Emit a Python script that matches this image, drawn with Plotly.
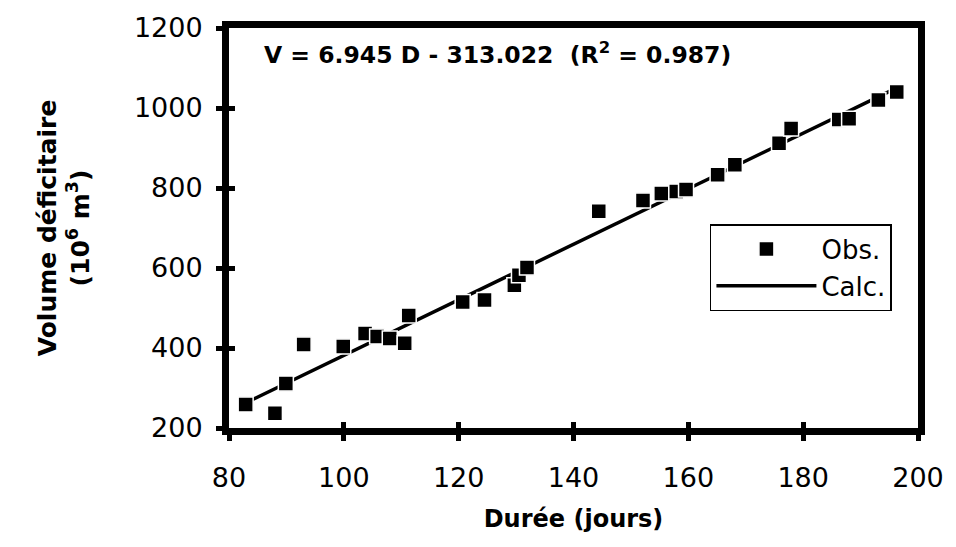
import plotly.graph_objects as go

# Observed data: duration (days) vs deficit volume (10^6 m3)
duree_obs = [82.9, 88.0, 89.9, 93.0, 99.9, 103.7, 105.8, 108.0, 110.6, 111.3,
             120.7, 124.5, 129.7, 130.5, 131.9, 144.4, 152.1, 155.3, 157.9, 159.6,
             165.1, 168.1, 175.8, 177.9, 186.2, 188.0, 193.1, 196.3]
volume_obs = [259, 237, 311, 409, 404, 436, 429, 424, 412, 481,
              515, 520, 557, 582, 601, 742, 769, 786, 791, 796,
              833, 858, 912, 949, 971, 973, 1020, 1040]

# Regression line (from the equation shown on the chart)
slope = 6.945
intercept = -313.022
duree_calc = [min(duree_obs), max(duree_obs)]
volume_calc = [slope * d + intercept for d in duree_calc]

x_ticks = [80, 100, 120, 140, 160, 180, 200]
y_ticks = [200, 400, 600, 800, 1000, 1200]

FONT = "DejaVu Sans, sans-serif"

fig = go.Figure()
fig.add_trace(go.Scatter(
    x=duree_calc, y=volume_calc, mode="lines", name="Calc.",
    line=dict(color="black", width=3.5), legendrank=2))
fig.add_trace(go.Scatter(
    x=duree_obs, y=volume_obs, mode="markers", name="Obs.",
    marker=dict(symbol="square", size=15, color="black",
                line=dict(color="white", width=1.5)), legendrank=1))

# overlay axes for inside ticks (ticks cross the axis line)
fig.add_trace(go.Scatter(x=[None], y=[None], xaxis="x2", yaxis="y2",
                         showlegend=False, hoverinfo="skip"))

fig.update_layout(
    width=956, height=547,
    margin=dict(l=229, r=34, t=22, b=119),
    paper_bgcolor="white", plot_bgcolor="white",
    font=dict(family=FONT, color="black", size=26),
    showlegend=True,
    legend=dict(x=0.698, y=0.51, xanchor="left", yanchor="top",
                bordercolor="black", borderwidth=1.5, bgcolor="white",
                font=dict(size=26, family=FONT), tracegroupgap=0,
                itemwidth=100),
    xaxis=dict(range=[80, 200], tickvals=x_ticks, ticks="outside", ticklen=6,
               tickwidth=5, tickcolor="black", showline=True, linewidth=7,
               linecolor="black", mirror=True, showgrid=False, zeroline=False,
               tickfont=dict(size=27, family=FONT), ticklabelstandoff=14,
               title=dict(text="<b>Durée (jours)</b>", font=dict(size=24, family=FONT),
                          standoff=20)),
    yaxis=dict(range=[200, 1200], tickvals=y_ticks, ticks="outside", ticklen=6,
               tickwidth=5, tickcolor="black", showline=True, linewidth=7,
               linecolor="black", mirror=True, showgrid=False, zeroline=False,
               tickfont=dict(size=27, family=FONT), ticklabelstandoff=8,
               title=dict(text="<b>Volume déficitaire<br>(10<sup>6</sup> m<sup>3</sup>)</b>",
                          font=dict(size=25, family=FONT), standoff=40)),
    xaxis2=dict(range=[80, 200], tickvals=x_ticks, ticks="inside", ticklen=6,
                tickwidth=5, tickcolor="black", showticklabels=False,
                showgrid=False, zeroline=False, overlaying="x", anchor="y2",
                side="bottom"),
    yaxis2=dict(range=[200, 1200], tickvals=y_ticks, ticks="inside", ticklen=6,
                tickwidth=5, tickcolor="black", showticklabels=False,
                showgrid=False, zeroline=False, overlaying="y", anchor="x2",
                side="left"),
)

fig.add_annotation(
    xref="paper", yref="paper", x=0.048, y=0.935, xanchor="left", yanchor="middle",
    text="<b>V = 6.945 D - 313.022  (R<sup>2</sup> = 0.987)</b>",
    showarrow=False, font=dict(size=23.5, family=FONT, color="black"))

fig.write_html("out.html")
